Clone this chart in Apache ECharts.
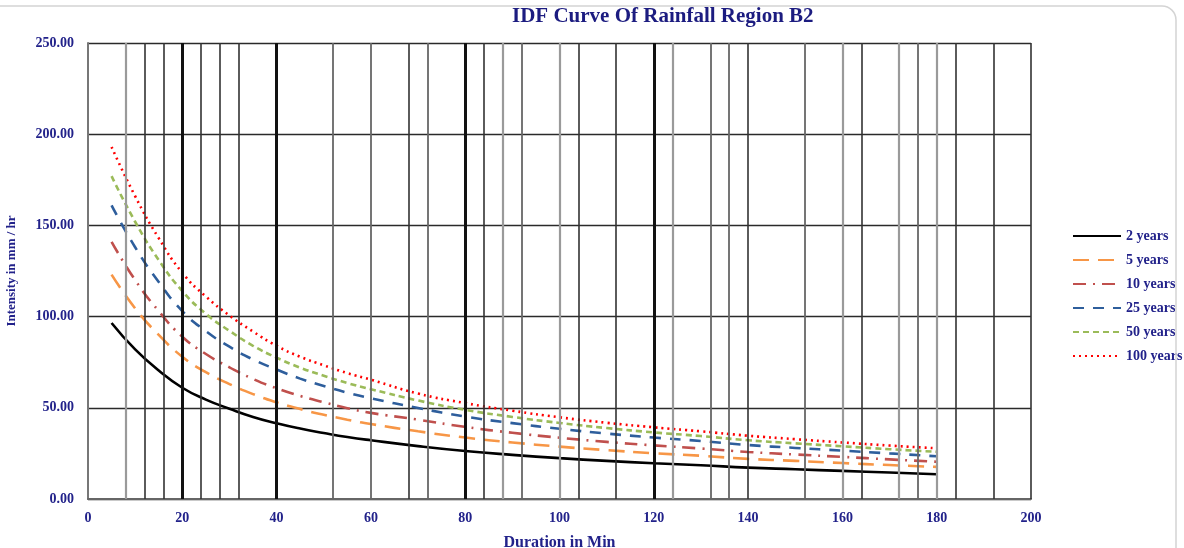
<!DOCTYPE html>
<html>
<head>
<meta charset="utf-8">
<script src="https://cdn.jsdelivr.net/npm/echarts@6/dist/echarts.min.js"></script>
<style>html,body{margin:0;padding:0;background:#fff}#c{width:1184px;height:548px}</style>
</head>
<body>
<div id="c"></div>
<script>
const durations = [5,10,15,20,25,30,35,40,45,50,55,60,70,80,90,100,110,120,130,140,150,160,170,180];
const y2   = [96.5,82,70.5,61,54.5,49.5,45,41.5,38.6,36.2,34,32.2,29,26.3,24.2,22.4,20.9,19.6,18.5,17.2,16.3,15.4,14.5,13.6];
const y5   = [123,104.5,90,78,69.5,63,57.5,53,49.3,46.2,43.5,41.1,37.1,33.7,31,28.7,26.8,25.1,23.7,22,20.9,19.7,18.6,17.6];
const y10  = [141,120,103,89,79.5,72.2,65.8,60.7,56.5,53,49.8,47.2,43.5,39.5,36.3,33.6,31.3,29.4,27.7,25.8,24.4,23.1,21.7,20.4];
const y25  = [161,138,119,103,92,83.5,76.5,71,66,62,58.3,55.2,49.9,45.2,41.6,38.5,35.9,33.7,31.8,29.6,28,26.5,25,23.4];
const y50  = [177,152,131,114,101.5,92.2,84,77.5,72,67.6,63.6,60.2,54,48.9,45,41.7,38.9,36.5,34.5,32.2,30.5,28.9,27.3,25.9];
const y100 = [193,166,143,124,111,100.6,91.8,84,78,73.3,69,65.4,57.8,52.6,48.4,44.8,41.8,39.3,37.1,34.7,32.8,31,29.3,27.8];
const seriesNames = ['2 years','5 years','10 years','25 years','50 years','100 years'];
const xTicks = [0,20,40,60,80,100,120,140,160,180,200];
const yTicks = [0,50,100,150,200,250];
// vertical grid lines (duration values)
const vThick = [20,40,80,120];
const vDark  = [12,16,24,28,32,68,84,104,112,140,164,184,192,200];
const vMid   = [52,60,72,92,132,136,152,176];
const vLight = [8,88,100,124,160,172,180];

const navy = '#22228a';
const font = 'Liberation Serif';
const pair = arr => durations.map((d,i)=>[d,arr[i]]);

const vlines = [];
vThick.forEach(v=>vlines.push({xAxis:v,lineStyle:{color:'#111',width:3,type:'solid'}}));
vDark.forEach(v=>vlines.push({xAxis:v,lineStyle:{color:'#333',width:1.6,type:'solid'}}));
vMid.forEach(v=>vlines.push({xAxis:v,lineStyle:{color:'#666',width:1.8,type:'solid'}}));
vLight.forEach(v=>vlines.push({xAxis:v,lineStyle:{color:'#9a9a9a',width:2.2,type:'solid'}}));

const styles = [
  {color:'#000000', type:'solid', width:2.6},
  {color:'#f79646', type:[16,9], width:2.6},
  {color:'#c0504d', type:[13,7,2,7], width:2.6},
  {color:'#2e5e9c', type:[11,9], width:2.6},
  {color:'#9bbb59', type:[6,4], width:2.6},
  {color:'#ff0000', type:[2,4], width:2.6}
];
const dataArr = [y2,y5,y10,y25,y50,y100];

const series = [{
  name:'grid', type:'line', data:[], silent:true, z:1,
  markLine:{silent:true, symbol:['none','none'], label:{show:false}, animation:false, data:vlines}
}];
seriesNames.forEach((n,i)=>{
  series.push({
    name:n, type:'line', data:pair(dataArr[i]), smooth:true, symbol:'none', showSymbol:false, z:3,
    lineStyle:{color:styles[i].color, type:styles[i].type, width:styles[i].width},
    itemStyle:{color:styles[i].color}, animation:false
  });
});

const chart = echarts.init(document.getElementById('c'));
chart.setOption({
  backgroundColor:'#fff',
  animation:false,
  title:{text:'IDF Curve Of Rainfall Region B2', left:507, top:1,
    textStyle:{fontFamily:font, fontWeight:'bold', fontSize:21, color:'#1c1c80'}},
  grid:{left:88, right:153, top:43, bottom:49, outerBoundsMode:'none', containLabel:false},
  legend:{data:seriesNames, orient:'vertical', left:1067, top:224, itemWidth:48, itemHeight:12, itemGap:10,
    itemStyle:{opacity:0},
    textStyle:{fontFamily:font, fontWeight:'bold', fontSize:14, color:navy}},
  xAxis:{type:'value', min:0, max:200, interval:20,
    name:'Duration in Min', nameLocation:'middle', nameGap:36,
    nameTextStyle:{fontFamily:font, fontWeight:'bold', fontSize:16, color:navy},
    axisLine:{show:true, lineStyle:{color:'#666', width:2}},
    axisTick:{show:false},
    axisLabel:{fontFamily:font, fontWeight:'bold', fontSize:14, color:navy, margin:12,
      formatter:v=>xTicks.includes(v)?String(v):''},
    splitLine:{show:false}},
  yAxis:{type:'value', min:0, max:250, interval:50,
    name:'Intensity in mm / hr', nameLocation:'middle', nameGap:70, nameRotate:90,
    nameTextStyle:{fontFamily:font, fontWeight:'bold', fontSize:13, color:navy},
    axisLine:{show:true, lineStyle:{color:'#777', width:2}},
    axisTick:{show:false},
    axisLabel:{fontFamily:font, fontWeight:'bold', fontSize:14, color:navy, margin:14,
      formatter:v=>yTicks.includes(v)?v.toFixed(2):''},
    splitLine:{show:true, lineStyle:{color:'#2a2a2a', width:1.3}}},
  graphic:[{type:'rect', silent:true, z:100,
    shape:{x:-30, y:6, width:1206, height:600, r:14},
    style:{fill:'none', stroke:'#d4d4d4', lineWidth:1.5}}],
  series:series
});
</script>
</body>
</html>
